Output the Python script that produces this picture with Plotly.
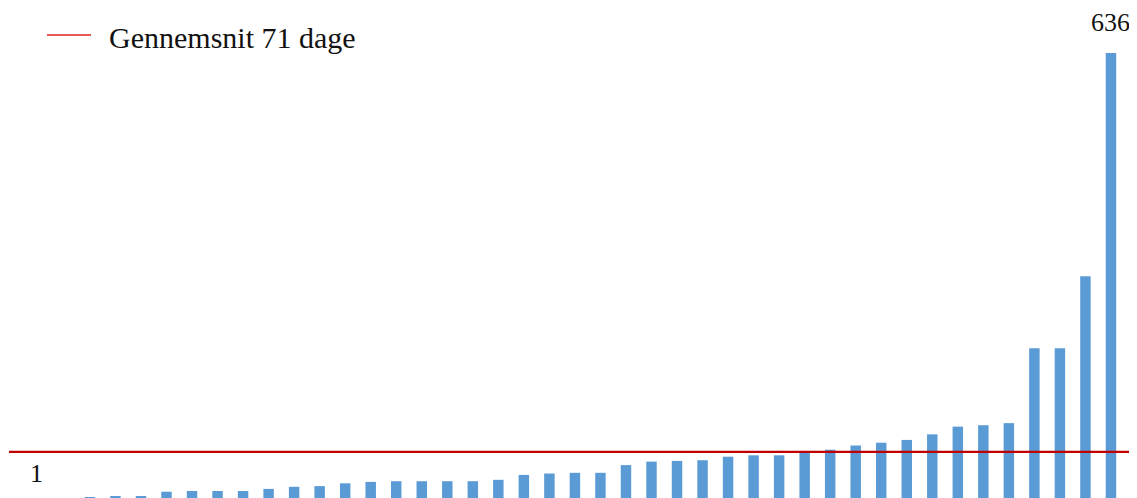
import plotly.graph_objects as go

# Data (days per case, sorted ascending)
categories = [f"Sag {i}" for i in range(1, 42)]
days = [1, 2, 2, 9, 10, 10, 10, 13, 16, 17, 21, 23, 24, 24, 24, 24, 26, 33, 35, 36,
        36, 47, 52, 53, 54, 59, 61, 61, 66, 69, 75, 79, 83, 91, 102, 104, 107, 214, 214, 317, 636]
mean_label = "Gennemsnit 71 dage"
mean_line_level = 66  # level at which the red line is drawn in the picture

BAR_COLOR = "#5B9BD5"
LINE_COLOR = "#C00000"
FONT = "Liberation Serif, Times New Roman, serif"

# page has an 8px body margin; figure is sized to fit the window exactly
W, H = 1129, 490
ML = 1
PW = W - ML

fig = go.Figure()
fig.add_trace(go.Bar(x=list(range(len(categories))), y=days, marker=dict(color=BAR_COLOR, line=dict(width=0)),
                     hovertext=categories, showlegend=False))

x_lo, x_hi = -3.17, 41.02
fig.add_trace(go.Scatter(x=[x_lo, x_hi], y=[mean_line_level, mean_line_level], mode="lines",
                         line=dict(color=LINE_COLOR, width=2.2), showlegend=False, name=mean_label))

# custom legend (positions in figure pixels converted to paper coords)
def px(xp):
    return (xp - ML) / PW

def py(yp):
    return 1 - yp / H

fig.add_shape(type="line", xref="paper", yref="paper", x0=px(39), x1=px(83),
              y0=py(27), y1=py(27), line=dict(color="#E0201B", width=1.5))
fig.add_annotation(xref="paper", yref="paper", x=px(99), y=py(30), xanchor="left",
                   yanchor="middle", text=mean_label, showarrow=False,
                   font=dict(family=FONT, size=30, color="#111"))

# data labels
fig.add_annotation(x=len(days) - 1, y=max(days), text=str(max(days)), showarrow=False, yanchor="bottom",
                   yshift=14, font=dict(family=FONT, size=26, color="#111"))
fig.add_annotation(x=0, y=min(days), text=str(min(days)), showarrow=False, xshift=-53, yshift=24,
                   font=dict(family=FONT, size=26, color="#111"))

fig.update_layout(
    width=W, height=H, margin=dict(l=ML, r=0, t=0, b=0),
    plot_bgcolor="white", paper_bgcolor="white", bargap=0.59,
    xaxis=dict(range=[x_lo, x_hi], visible=False, showgrid=False, zeroline=False),
    yaxis=dict(range=[0, 700.3], visible=False, showgrid=False, zeroline=False),
)

fig.write_html("out.html")
